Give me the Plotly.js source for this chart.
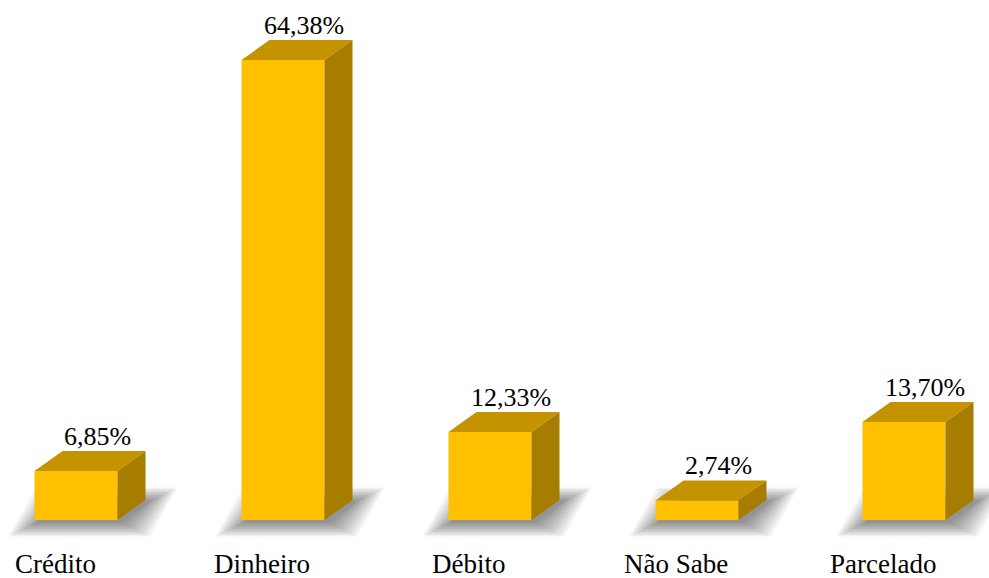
<!DOCTYPE html>
<html>
<head>
<meta charset="utf-8">
<script src="https://cdn.plot.ly/plotly-3.0.1.min.js"></script>
<style>html,body{margin:0;padding:0;background:#fff;}#chart{width:989px;height:578px;}</style>
</head>
<body>
<div id="chart"></div>
<script>
const categories = ["Crédito", "Dinheiro", "Débito", "Não Sabe", "Parcelado"];
const values = [6.85, 64.38, 12.33, 2.74, 13.70];
const valueLabels = ["6,85%", "64,38%", "12,33%", "2,74%", "13,70%"];

// geometry (px -> data units)
const W = 989, H = 578;
const pxPerCat = 207, x0px = 76;
const basePx = 520, pxPerPct = 7.145;
const xr = [-x0px / pxPerCat, (W - x0px) / pxPerCat];
const yr = [-(H - basePx) / pxPerPct, basePx / pxPerPct];
const barW = 83 / pxPerCat;
const dX = 28 / pxPerCat, dY = 20 / pxPerPct;
const pxX = p => p / pxPerCat, pxY = p => p / pxPerPct;

const FRONT = "#FFC000", TOP = "#C59300", SIDE = "#A67D00";
const FONT = "Liberation Serif";

const traces = [];
const shapes = [];
const annotations = [];

values.forEach((v, i) => {
  const xl = i - barW / 2, xrgt = i + barW / 2;
  const layers = 10;
  for (let k = 0; k < layers; k++) {
    const e = 2 + k * 3;
    const ex = pxX(e), ey = pxY(e * 0.5);
    const sx = pxX(3), sy = pxY(-2);
    const pts = [
      [xl - ex + sx, 0 - ey + sy],
      [xrgt + ex + sx, 0 - ey + sy],
      [xrgt + dX + ex + sx, dY + ey + sy],
      [xl + dX - ex + sx, dY + ey + sy]
    ];
    shapes.push({
      type: "path", xref: "x", yref: "y", layer: "below",
      path: "M" + pts.map(p => p[0] + "," + p[1]).join(" L") + " Z",
      fillcolor: "rgba(0,0,0,0.05)", line: {width: 0}
    });
  }
  traces.push({
    type: "scatter", mode: "lines", fill: "toself", fillcolor: FRONT,
    line: {width: 0, color: FRONT}, hoverinfo: "skip", showlegend: false,
    x: [xl, xrgt, xrgt, xl, xl], y: [0, 0, v, v, 0]
  });
  traces.push({
    type: "scatter", mode: "lines", fill: "toself", fillcolor: TOP,
    line: {width: 0, color: TOP}, hoverinfo: "skip", showlegend: false,
    x: [xl, xrgt, xrgt + dX, xl + dX, xl], y: [v, v, v + dY, v + dY, v]
  });
  traces.push({
    type: "scatter", mode: "lines", fill: "toself", fillcolor: SIDE,
    line: {width: 0, color: SIDE}, hoverinfo: "skip", showlegend: false,
    x: [xrgt, xrgt + dX, xrgt + dX, xrgt, xrgt], y: [0, dY, v + dY, v, 0]
  });
  annotations.push({
    x: i + dX / 2, y: v + dY, xref: "x", yref: "y", xshift: 7,
    text: valueLabels[i], showarrow: false, yanchor: "bottom", yshift: -2,
    font: {family: FONT, size: 26, color: "#000000"}
  });
  annotations.push({
    x: i, y: -6.2, xref: "x", yref: "y", xshift: -21,
    text: categories[i], showarrow: false, yanchor: "middle",
    font: {family: FONT, size: 27, color: "#000000"}
  });
});

const layout = {
  width: W, height: H,
  margin: {l: 0, r: 0, t: 0, b: 0},
  paper_bgcolor: "#fff", plot_bgcolor: "#fff",
  font: {family: FONT, size: 26, color: "#000000"},
  xaxis: {range: xr, visible: false, fixedrange: true},
  yaxis: {range: yr, visible: false, fixedrange: true},
  shapes: shapes, annotations: annotations, showlegend: false
};
Plotly.newPlot("chart", traces, layout, {displayModeBar: false});
</script>
</body>
</html>
